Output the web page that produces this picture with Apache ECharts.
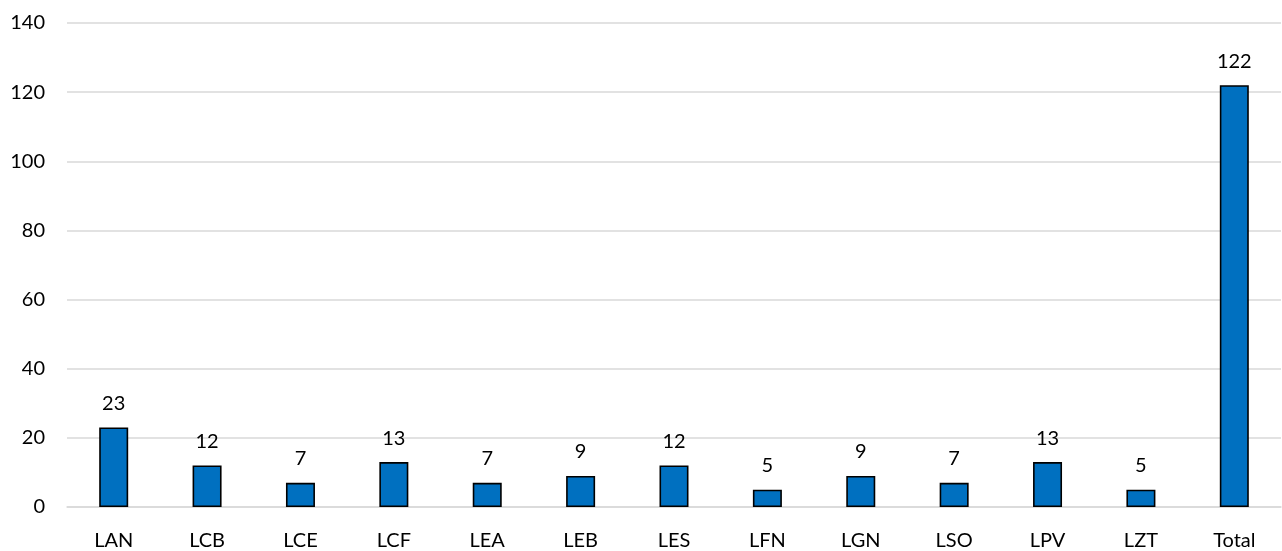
<!DOCTYPE html>
<html><head><meta charset="utf-8">
<script src="https://cdn.jsdelivr.net/npm/echarts@6/dist/echarts.min.js"></script>
<style>html,body{margin:0;padding:0;background:#fff}#c{width:1282px;height:551px}</style>
</head><body><div id="c"></div>
<script>
var categories = ["LAN","LCB","LCE","LCF","LEA","LEB","LES","LFN","LGN","LSO","LPV","LZT","Total"];
var values = [23,12,7,13,7,9,12,5,9,7,13,5,122];
var yTicks = {min:0, max:140, interval:20};
var chart = echarts.init(document.getElementById('c'));
var font = 'Lato, "Open Sans", sans-serif';
chart.setOption({
  animation:false,
  grid:{left:67, right:1, top:23, bottom:44, containLabel:false},
  xAxis:{type:'category', data:categories,
    axisLine:{show:true, lineStyle:{color:'#D9D9D9', width:1.5}},
    axisTick:{show:false},
    axisLabel:{color:'#000', fontFamily:font, fontSize:20, margin:24}},
  yAxis:{type:'value', min:yTicks.min, max:yTicks.max, interval:yTicks.interval,
    axisLine:{show:false}, axisTick:{show:false},
    splitLine:{lineStyle:{color:'#D9D9D9', width:1.5}},
    axisLabel:{color:'#000', fontFamily:font, fontSize:20, margin:22}},
  series:[{type:'bar', data:values, barWidth:29,
    itemStyle:{color:'#0070C0', borderColor:'#000', borderWidth:1.6},
    label:{show:true, position:'top', distance:14, color:'#000', fontFamily:font, fontSize:20}}]
});
</script></body></html>
